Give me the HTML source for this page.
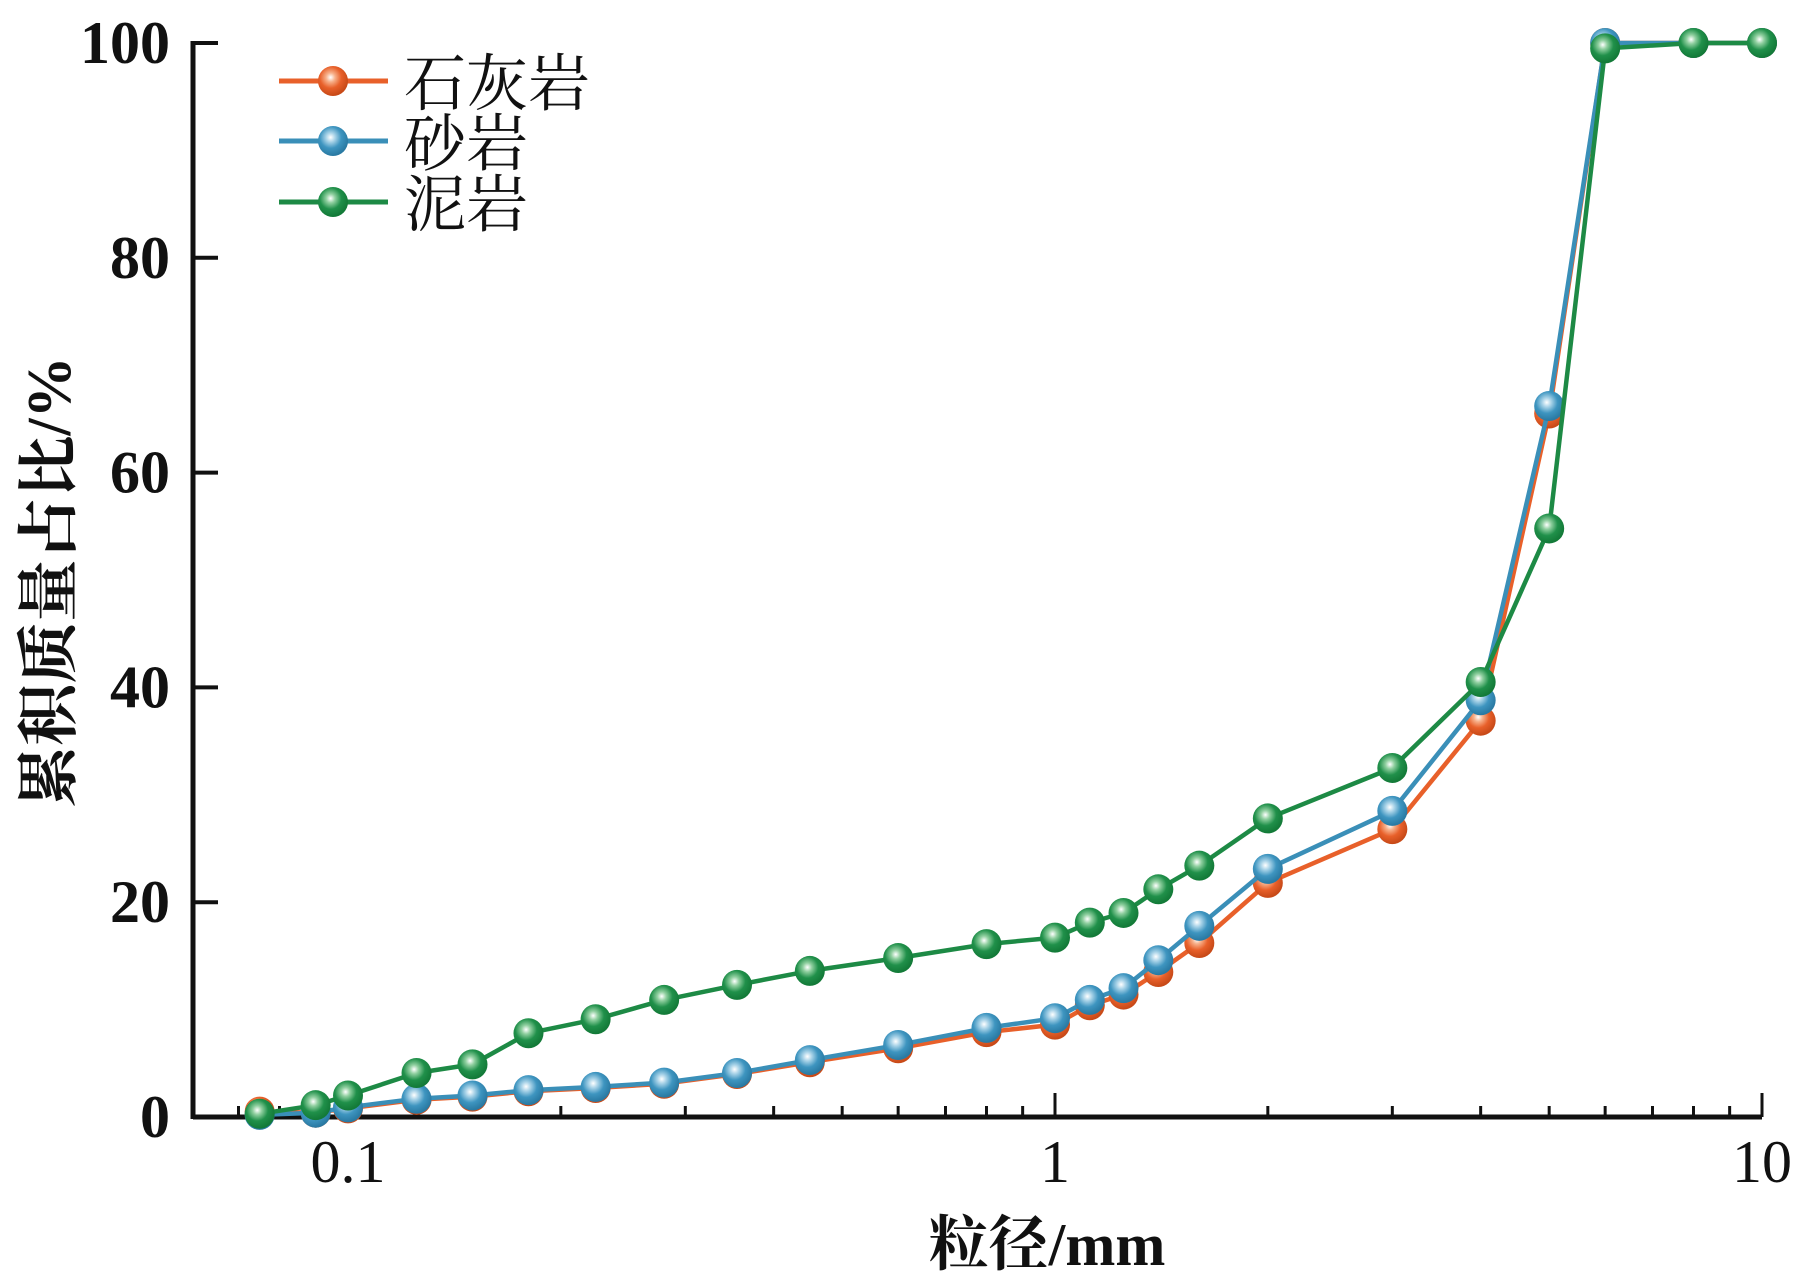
<!DOCTYPE html>
<html><head><meta charset="utf-8">
<style>
html,body{margin:0;padding:0;background:#fff;}
svg{display:block;}
text{font-family:"Liberation Serif","Noto Serif CJK SC",serif;fill:#111;}
</style></head>
<body>
<svg id="chart" width="1820" height="1279" viewBox="0 0 1820 1279" xmlns="http://www.w3.org/2000/svg">
<defs>
<radialGradient id="gO" cx="0.42" cy="0.38" r="0.6"><stop offset="0" stop-color="#fff"/><stop offset="0.25" stop-color="#f7b08a"/><stop offset="0.6" stop-color="#e8602a"/><stop offset="1" stop-color="#c84a18"/></radialGradient>
<radialGradient id="gB" cx="0.42" cy="0.38" r="0.6"><stop offset="0" stop-color="#fff"/><stop offset="0.25" stop-color="#a9d3e8"/><stop offset="0.6" stop-color="#3e95c0"/><stop offset="1" stop-color="#2a7aa3"/></radialGradient>
<radialGradient id="gG" cx="0.42" cy="0.38" r="0.6"><stop offset="0" stop-color="#fff"/><stop offset="0.25" stop-color="#8fcf9f"/><stop offset="0.6" stop-color="#20904a"/><stop offset="1" stop-color="#137a38"/></radialGradient>
</defs>
<g id="plot"></g>
</svg>
<script>
const sizes = [0.075,0.09,0.1,0.125,0.15,0.18,0.224,0.28,0.355,0.45,0.6,0.8,1,1.12,1.25,1.4,1.6,2,3,4,5,6,8,10];
const limestone = [0.5,0.4,0.8,1.6,1.9,2.4,2.7,3.1,4.0,5.1,6.4,7.9,8.6,10.4,11.4,13.5,16.2,21.8,26.8,36.9,65.5,100,100,100];
const sandstone = [0.2,0.4,0.9,1.7,2.0,2.5,2.8,3.2,4.1,5.3,6.7,8.3,9.2,10.9,12.0,14.6,17.8,23.1,28.5,38.8,66.2,100,100,100];
const mudstone = [0.3,1.1,2.0,4.1,4.9,7.8,9.1,10.9,12.3,13.6,14.8,16.1,16.7,18.1,19.0,21.2,23.4,27.8,32.5,40.5,54.8,99.5,100,100];
const yTicks = [0,20,40,60,80,100];
const xMajor = [0.1,1,10];
const xMinor = [0.07,0.08,0.09,0.2,0.3,0.4,0.5,0.6,0.7,0.8,0.9,2,3,4,5,6,7,8,9];

const NS="http://www.w3.org/2000/svg";
const g=document.getElementById('plot');
const X0=193, X1=1762, Y0=1117, Y100=43;
const L01=348, L10=1762;
function sx(v){return L01+(Math.log10(v)+1)*(L10-L01)/2;}
function sy(v){return Y0+(Y100-Y0)*v/100;}
function el(t,a,p){const e=document.createElementNS(NS,t);for(const k in a)e.setAttribute(k,a[k]);(p||g).appendChild(e);return e;}

const ax=el('line',{x1:X0,y1:Y0,x2:X1,y2:Y0,stroke:'#111','stroke-width':5});


const ay=el('line',{x1:X0,y1:Y0+2,x2:X0,y2:Y100-2,stroke:'#111','stroke-width':5});



yTicks.forEach(v=>{
  const t=el('line',{x1:X0,y1:sy(v),x2:X0+25,y2:sy(v),stroke:'#111','stroke-width':4});
  
  
  const l=el('text',{x:170,y:sy(v)+20,'text-anchor':'end','font-size':60,'font-weight':'bold'});
  l.textContent=v;
  
  
});
xMajor.forEach(v=>{
  const t=el('line',{x1:sx(v),y1:Y0,x2:sx(v),y2:Y0-24,stroke:'#111','stroke-width':3});
  
  
  const l=el('text',{x:sx(v),y:1182,'text-anchor':'middle','font-size':60});
  l.textContent=v;
  
  
});
xMinor.forEach(v=>{
  const t=el('line',{x1:sx(v),y1:Y0,x2:sx(v),y2:Y0-11,stroke:'#111','stroke-width':3});
  
  
});

const xt=el('text',{x:1047,y:1265,'text-anchor':'middle','font-size':60,'font-weight':'bold'});
xt.textContent='粒径/mm';


const yt=el('text',{x:0,y:0,'text-anchor':'middle','font-size':62,'font-weight':'bold',transform:'translate(70,582) rotate(-90)'});
yt.textContent='累积质量占比/%';



const series=[
  {name:'limestone',vals:limestone,color:'#e8602a',grad:'url(#gO)',label:'石灰岩',ly:81},
  {name:'sandstone',vals:sandstone,color:'#3a8fb8',grad:'url(#gB)',label:'砂岩',ly:141},
  {name:'mudstone',vals:mudstone,color:'#1d8a45',grad:'url(#gG)',label:'泥岩',ly:202}
];
series.forEach(s=>{
  const sg=el('g',{});
  
  
  const pts=sizes.map((x,i)=>sx(x).toFixed(1)+','+sy(s.vals[i]).toFixed(1)).join(' ');
  const pl=el('polyline',{points:pts,fill:'none',stroke:s.color,'stroke-width':4.5,'stroke-linejoin':'round'},sg);
  
  
  sizes.forEach((x,i)=>{
    const c=el('circle',{cx:sx(x),cy:sy(s.vals[i]),r:15,fill:s.grad},sg);
    
    
  });
  const lg=el('g',{});
  
  
  el('line',{x1:279,y1:s.ly,x2:388,y2:s.ly,stroke:s.color,'stroke-width':5},lg);
  el('circle',{cx:333,cy:s.ly,r:15,fill:s.grad},lg);
  const lt=el('text',{x:404,y:s.ly+24,'font-size':62},lg);
  lt.textContent=s.label;
  
  
});
</script>
</body></html>
